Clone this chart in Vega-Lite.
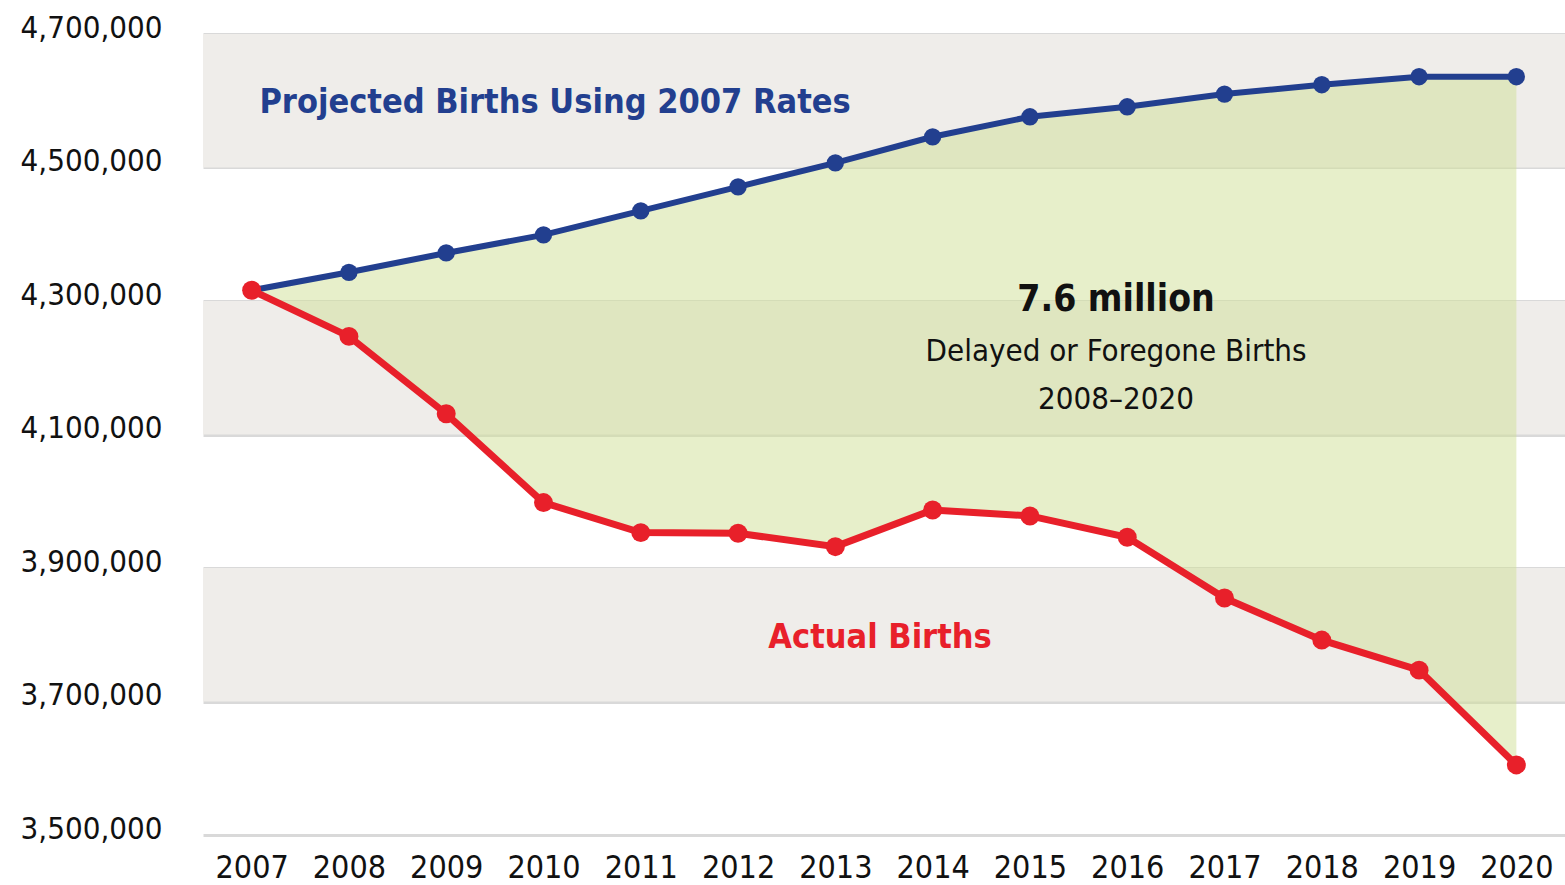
{
  "$schema": "https://vega.github.io/schema/vega-lite/v6.json",
  "width": 1362,
  "height": 801,
  "autosize": "none",
  "padding": {"left": 203, "top": 34, "right": 0, "bottom": 50},
  "background": "white",
  "config": {
    "view": {"stroke": null},
    "font": "DejaVu Sans Condensed"
  },
  "datasets": {
    "births": [
      {"year": 2007, "projected": 4316000, "actual": 4316000},
      {"year": 2008, "projected": 4343000, "actual": 4247000},
      {"year": 2009, "projected": 4372000, "actual": 4131000},
      {"year": 2010, "projected": 4399000, "actual": 3998000},
      {"year": 2011, "projected": 4435000, "actual": 3953000},
      {"year": 2012, "projected": 4471000, "actual": 3952000},
      {"year": 2013, "projected": 4507000, "actual": 3932000},
      {"year": 2014, "projected": 4546000, "actual": 3987000},
      {"year": 2015, "projected": 4576000, "actual": 3978000},
      {"year": 2016, "projected": 4591000, "actual": 3946000},
      {"year": 2017, "projected": 4610000, "actual": 3855000},
      {"year": 2018, "projected": 4624000, "actual": 3792000},
      {"year": 2019, "projected": 4636000, "actual": 3747000},
      {"year": 2020, "projected": 4636000, "actual": 3605000}
    ],
    "bands": [
      {"lo": 4500000, "hi": 4700000},
      {"lo": 4100000, "hi": 4300000},
      {"lo": 3700000, "hi": 3900000}
    ],
    "notes": [
      {"year": 2007.08, "value": 4597000, "text": "Projected Births Using 2007 Rates", "kind": "proj"},
      {"year": 2015.885, "value": 4301000, "text": "7.6 million", "kind": "big"},
      {"year": 2015.885, "value": 4224000, "text": "Delayed or Foregone Births", "kind": "sub"},
      {"year": 2015.885, "value": 4152000, "text": "2008–2020", "kind": "sub"},
      {"year": 2013.46, "value": 3795000, "text": "Actual Births", "kind": "act"}
    ]
  },
  "layer": [
    {
      "data": {"name": "bands"},
      "mark": {"type": "rect", "color": "#efedea"},
      "encoding": {
        "x": {"value": 0},
        "x2": {"value": "width"},
        "y": {"field": "lo", "type": "quantitative", "scale": {"domain": [3500000, 4700000]}},
        "y2": {"field": "hi"}
      }
    },
    {
      "data": {"name": "births"},
      "mark": {"type": "area", "color": "#cfdf95", "opacity": 0.5},
      "encoding": {
        "x": {"field": "year", "type": "quantitative", "scale": {"domain": [2006.5, 2020.5], "nice": false, "zero": false},
          "axis": {"values": [2007,2008,2009,2010,2011,2012,2013,2014,2015,2016,2017,2018,2019,2020], "format": "d", "title": null,
            "domain": false, "ticks": false, "grid": false, "labelFontSize": 32, "labelColor": "#111111", "labelPadding": 17, "labelFont": "DejaVu Sans Condensed"}},
        "y": {"field": "projected", "type": "quantitative",
          "scale": {"domain": [3500000, 4700000], "nice": false, "zero": false},
          "axis": {"values": [3500000, 3700000, 3900000, 4100000, 4300000, 4500000, 4700000], "format": ",d", "title": null,
            "domain": false, "ticks": false, "grid": true, "gridColor": "#d9d9d9", "gridWidth": 3, "gridOpacity": 1,
            "labelFontSize": 31, "labelColor": "#111111", "labelPadding": 41, "labelOffset": -6, "labelFont": "DejaVu Sans Condensed"}},
        "y2": {"field": "actual"}
      }
    },
    {
      "data": {"name": "births"},
      "mark": {"type": "line", "color": "#223f8f", "strokeWidth": 6, "point": {"filled": true, "size": 300, "color": "#223f8f"}},
      "encoding": {
        "x": {"field": "year", "type": "quantitative"},
        "y": {"field": "projected", "type": "quantitative"}
      }
    },
    {
      "data": {"name": "births"},
      "mark": {"type": "line", "color": "#e8202a", "strokeWidth": 7, "point": {"filled": true, "size": 360, "color": "#e8202a"}},
      "encoding": {
        "x": {"field": "year", "type": "quantitative"},
        "y": {"field": "actual", "type": "quantitative"}
      }
    },
    {
      "data": {"name": "notes"},
      "transform": [{"filter": "datum.kind == 'proj'"}],
      "mark": {"type": "text", "align": "left", "baseline": "middle", "fontSize": 34, "fontWeight": "bold", "color": "#223f8f", "font": "DejaVu Sans Condensed"},
      "encoding": {
        "x": {"field": "year", "type": "quantitative"},
        "y": {"field": "value", "type": "quantitative"},
        "text": {"field": "text"}
      }
    },
    {
      "data": {"name": "notes"},
      "transform": [{"filter": "datum.kind == 'big'"}],
      "mark": {"type": "text", "align": "center", "baseline": "middle", "fontSize": 37, "fontWeight": "bold", "color": "#111111", "font": "DejaVu Sans Condensed"},
      "encoding": {
        "x": {"field": "year", "type": "quantitative"},
        "y": {"field": "value", "type": "quantitative"},
        "text": {"field": "text"}
      }
    },
    {
      "data": {"name": "notes"},
      "transform": [{"filter": "datum.kind == 'sub'"}],
      "mark": {"type": "text", "align": "center", "baseline": "middle", "fontSize": 31, "color": "#111111", "font": "DejaVu Sans Condensed"},
      "encoding": {
        "x": {"field": "year", "type": "quantitative"},
        "y": {"field": "value", "type": "quantitative"},
        "text": {"field": "text"}
      }
    },
    {
      "data": {"name": "notes"},
      "transform": [{"filter": "datum.kind == 'act'"}],
      "mark": {"type": "text", "align": "center", "baseline": "middle", "fontSize": 34, "fontWeight": "bold", "color": "#e8202a", "font": "DejaVu Sans Condensed"},
      "encoding": {
        "x": {"field": "year", "type": "quantitative"},
        "y": {"field": "value", "type": "quantitative"},
        "text": {"field": "text"}
      }
    }
  ]
}
